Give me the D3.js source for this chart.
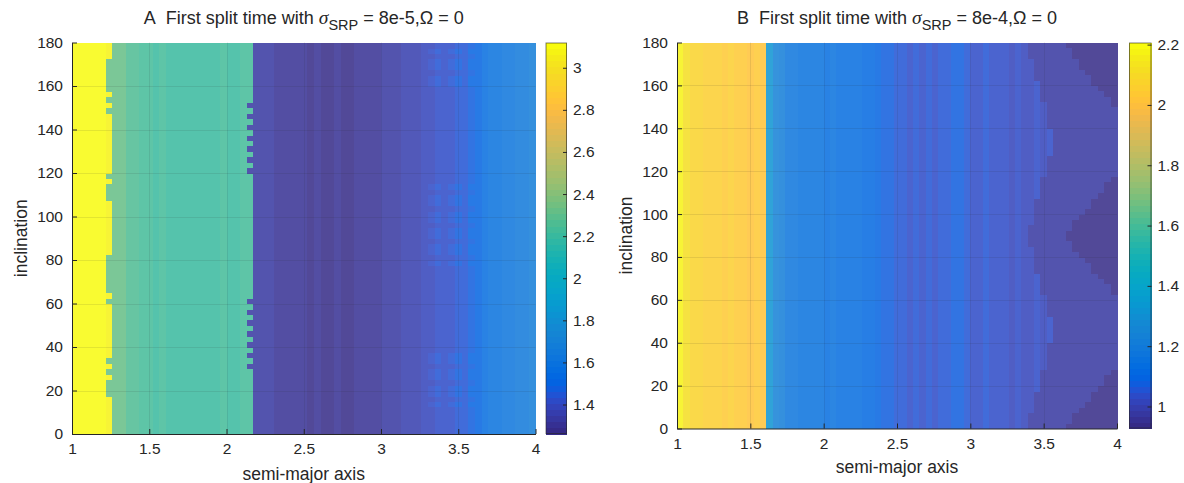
<!DOCTYPE html>
<html><head><meta charset="utf-8">
<script src="https://cdn.jsdelivr.net/npm/d3@7"></script>
<style>
body{margin:0;background:#fff;}
text{font-family:"Liberation Sans",Arial,Helvetica,sans-serif;fill:#262626;}
</style>
</head><body>
<svg id="chart" width="1184" height="483"></svg>
<script>
// ---------- data ----------
const xTicks = [1, 1.5, 2, 2.5, 3, 3.5, 4];
const yTicks = [0, 20, 40, 60, 80, 100, 120, 140, 160, 180];
const cbTicksA = [1.4, 1.6, 1.8, 2, 2.2, 2.4, 2.6, 2.8, 3];
const cbTicksB = [1, 1.2, 1.4, 1.6, 1.8, 2, 2.2];
const climA = [1.26, 3.12];
const climB = [0.927, 2.207];
const nCols = 69;   // semi-major axis cells, 1 .. 4
const nRows = 72;   // inclination cells, 0 .. 180 (2.5 deg)

// per-column value profile (panel A)
const profileA = [3.10,3.11,3.10,3.11,3.10,3.09,2.33,2.31,2.27,2.25,
  2.23,2.22,2.21,2.22,2.20,2.21,2.20,2.19,2.21,2.20,
  2.19,2.21,2.22,2.20,2.21,2.22,2.23,1.33,1.33,1.32,
  1.31,1.31,1.30,1.29,1.29,1.28,1.29,1.28,1.28,1.29,
  1.28,1.27,1.29,1.30,1.31,1.30,1.32,1.33,1.34,1.35,
  1.36,1.37,1.38,1.40,1.41,1.42,1.43,1.44,1.46,1.48,
  1.52,1.56,1.58,1.60,1.61,1.62,1.64,1.66,1.68];
// rows where the last yellow column (index 5) drops to green
const notchRowsA = [7,8,9,11,13,24,26,27,28,29,30,31,32,43,44,45,47,59,61,63,64,65,66,67,68];
const notchValueA = 2.31;
// rows where the last teal column (index 26) drops to the dark level
const ribRowsA = [12,14,16,18,20,22,24,48,50,52,54,56,58,60];
const ribValueA = 1.33;
// rows with lighter patches around a = 3.3..3.6
const bumpRowsA = [5,7,8,10,11,13,14,31,33,34,36,37,39,40,42,43,45,64,65,67,68,70];
const bumpColsA = [53,54,56,57,59];
const bumpA = 0.03;

// per-column value profile (panel B)
const profileB = [2.17,2.11,2.08,2.07,2.06,2.05,2.06,2.04,2.05,2.03,
  2.04,2.02,2.03,2.02,1.32,1.24,1.21,1.18,1.17,1.16,
  1.15,1.16,1.15,1.14,1.15,1.14,1.13,1.14,1.13,1.12,
  1.11,1.09,1.08,1.07,1.06,1.05,1.04,1.05,1.04,1.05,
  1.04,1.05,1.06,1.07,1.08,1.06,1.04,1.03,1.05,1.03,
  1.04,1.03,1.02,1.03,1.02,1.02,1.03,1.02,1.03,1.02,
  1.03,1.02,1.03,1.02,1.02,1.03,1.02,1.03,1.02];
// per-row first column of the medium-dark zone (panel B)
const midEdgeB = [55,55,55,56,56,56,56,57,57,57,57,58,58,58,58,58,59,59,59,59,
  59,58,58,58,58,57,57,57,57,56,56,56,56,56,55,55,55,55,56,56,
  56,56,56,57,57,57,57,58,58,58,58,59,59,59,59,59,58,58,58,58,
  58,57,57,57,57,56,56,56,56,55,55,55];
// per-row first column of the darkest zone (panel B), 69 = none
const darkEdgeB = [61,62,62,63,64,65,65,66,67,67,68,69,69,69,69,69,69,69,69,69,
  69,69,69,69,69,68,68,67,66,65,65,64,63,62,62,61,61,62,62,63,
  64,65,65,66,67,67,68,69,69,69,69,69,69,69,69,69,69,69,69,69,
  68,68,67,66,65,65,64,63,63,62,62,61];
const midValueB = 0.985;
const darkValueB = 0.935;

// MATLAB parula (64)
const parula = [
[0.2081,0.1663,0.5292],[0.2116,0.1898,0.5777],[0.2123,0.2138,0.6270],[0.2081,0.2386,0.6771],
[0.1959,0.2645,0.7279],[0.1707,0.2919,0.7792],[0.1253,0.3242,0.8303],[0.0591,0.3598,0.8683],
[0.0117,0.3875,0.8820],[0.0060,0.4086,0.8828],[0.0165,0.4266,0.8786],[0.0329,0.4430,0.8720],
[0.0498,0.4586,0.8641],[0.0629,0.4737,0.8554],[0.0723,0.4887,0.8467],[0.0779,0.5040,0.8384],
[0.0793,0.5200,0.8312],[0.0749,0.5375,0.8263],[0.0641,0.5570,0.8240],[0.0488,0.5772,0.8228],
[0.0343,0.5966,0.8199],[0.0265,0.6137,0.8135],[0.0239,0.6287,0.8038],[0.0231,0.6418,0.7913],
[0.0228,0.6535,0.7768],[0.0267,0.6642,0.7607],[0.0384,0.6743,0.7436],[0.0590,0.6838,0.7254],
[0.0843,0.6928,0.7062],[0.1133,0.7015,0.6859],[0.1453,0.7098,0.6646],[0.1801,0.7177,0.6424],
[0.2178,0.7250,0.6193],[0.2586,0.7317,0.5954],[0.3022,0.7376,0.5712],[0.3482,0.7424,0.5473],
[0.3953,0.7459,0.5244],[0.4420,0.7481,0.5033],[0.4871,0.7491,0.4840],[0.5300,0.7491,0.4661],
[0.5709,0.7485,0.4494],[0.6099,0.7473,0.4337],[0.6473,0.7456,0.4188],[0.6834,0.7435,0.4044],
[0.7184,0.7411,0.3905],[0.7525,0.7384,0.3768],[0.7858,0.7356,0.3633],[0.8185,0.7327,0.3498],
[0.8507,0.7299,0.3360],[0.8824,0.7274,0.3217],[0.9139,0.7258,0.3063],[0.9450,0.7261,0.2886],
[0.9739,0.7314,0.2666],[0.9938,0.7455,0.2403],[0.9990,0.7653,0.2164],[0.9955,0.7861,0.1967],
[0.9880,0.8066,0.1794],[0.9789,0.8271,0.1633],[0.9697,0.8481,0.1475],[0.9626,0.8705,0.1309],
[0.9589,0.8949,0.1132],[0.9598,0.9218,0.0948],[0.9661,0.9514,0.0755],[0.9763,0.9831,0.0538]];
const parulaHex = parula.map(c => d3.rgb(c[0]*255, c[1]*255, c[2]*255).formatHex());

// ---------- build matrices ----------
function buildA() {
  const cells = [];
  for (let r = 0; r < nRows; r++) for (let c = 0; c < nCols; c++) {
    let v = profileA[c];
    if (c === 5 && notchRowsA.includes(r)) v = notchValueA;
    if (c === 26 && ribRowsA.includes(r)) v = ribValueA;
    if (bumpRowsA.includes(r) && bumpColsA.includes(c)) v += bumpA;
    cells.push({r, c, v});
  }
  return cells;
}
function buildB() {
  const cells = [];
  for (let r = 0; r < nRows; r++) for (let c = 0; c < nCols; c++) {
    let v = profileB[c];
    if (c >= darkEdgeB[r]) v = darkValueB;
    else if (c >= midEdgeB[r]) v = midValueB;
    cells.push({r, c, v});
  }
  return cells;
}

// ---------- drawing ----------
const svg = d3.select("#chart");

function panel(opt) {
  const {x0, x1, y0, y1, cells, clim, cbTicks, cbX0, cbX1, letter, sub} = opt;
  const x = d3.scaleLinear().domain([1, 4]).range([x0, x1]);
  const y = d3.scaleLinear().domain([0, 180]).range([y1, y0]);
  const col = d3.scaleQuantize().domain(clim).range(parulaHex);
  const aEdge = k => 1 + k * 3 / nCols;
  const iEdge = k => k * 180 / nRows;

  const g = svg.append("g");
  const cg = g.append("g").attr("opacity", 0.85).attr("shape-rendering", "crispEdges");
  cg.selectAll("rect").data(cells).join("rect")
    .attr("x", d => x(aEdge(d.c)))
    .attr("y", d => y(iEdge(d.r + 1)))
    .attr("width", d => x(aEdge(d.c + 1)) - x(aEdge(d.c)) + 0.6)
    .attr("height", d => y(iEdge(d.r)) - y(iEdge(d.r + 1)) + 0.6)
    .attr("fill", d => col(d.v));

  // grid
  const gg = g.append("g").attr("stroke", "#262626").attr("stroke-opacity", 0.1).attr("stroke-width", 1);
  gg.selectAll(".gx").data(xTicks.slice(1, -1)).join("line")
    .attr("x1", d => Math.round(x(d)) + 0.5).attr("x2", d => Math.round(x(d)) + 0.5)
    .attr("y1", y0).attr("y2", y1);
  gg.selectAll(".gy").data(yTicks.slice(1, -1)).join("line")
    .attr("y1", d => Math.round(y(d)) + 0.5).attr("y2", d => Math.round(y(d)) + 0.5)
    .attr("x1", x0).attr("x2", x1);

  // axes
  const ax = g.append("g").attr("transform", `translate(0,${y1})`)
    .call(d3.axisBottom(x).tickValues(xTicks).tickFormat(d3.format("~g")).tickSizeInner(-5).tickSizeOuter(0).tickPadding(9));
  const ay = g.append("g").attr("transform", `translate(${x0},0)`)
    .call(d3.axisLeft(y).tickValues(yTicks).tickSizeInner(-5).tickSizeOuter(0).tickPadding(9));
  [ax, ay].forEach(a => {
    a.selectAll("path,line").attr("stroke", "#262626");
    a.selectAll("text").attr("font-size", 15.5).attr("fill", "#262626")
      .attr("font-family", '"Liberation Sans",Arial,sans-serif');
  });

  // labels
  g.append("text").attr("x", (x0 + x1) / 2).attr("y", opt.xlabY)
    .attr("text-anchor", "middle").attr("font-size", 17.5).text("semi-major axis");
  g.append("text").attr("transform", `translate(${opt.ylabX},${(y0 + y1) / 2}) rotate(-90)`)
    .attr("text-anchor", "middle").attr("font-size", 17.5).text("inclination");

  const t = g.append("text").attr("x", (x0 + x1) / 2).attr("y", 24)
    .attr("text-anchor", "middle").attr("font-size", 18).attr("fill", "#000");
  t.append("tspan").text(letter + "\u00a0 First split time with ");
  t.append("tspan").attr("font-family", '"Liberation Serif","Times New Roman",serif').attr("font-style", "italic").attr("font-size", 19.5).text("\u03c3");
  t.append("tspan").attr("font-size", 14.5).attr("dy", 6).text("SRP");
  t.append("tspan").attr("dy", -6).text(" = " + sub + ",\u03a9 = 0");

  // colorbar
  const cy = d3.scaleLinear().domain(clim).range([y1, y0]);
  const step = (clim[1] - clim[0]) / parulaHex.length;
  const cb = g.append("g").attr("shape-rendering", "crispEdges");
  cb.selectAll("rect").data(parulaHex).join("rect")
    .attr("x", cbX0).attr("width", cbX1 - cbX0)
    .attr("y", (d, i) => cy(clim[0] + (i + 1) * step))
    .attr("height", (d, i) => cy(clim[0] + i * step) - cy(clim[0] + (i + 1) * step) + 0.5)
    .attr("fill", d => d);
  g.append("rect").attr("x", cbX0 + 0.5).attr("y", y0 + 0.5).attr("width", cbX1 - cbX0 - 1).attr("height", y1 - y0 - 1)
    .attr("fill", "none").attr("stroke", "#262626").attr("stroke-width", 1).attr("stroke-opacity", 0.6);
  const cax = g.append("g").attr("transform", `translate(${cbX1},0)`)
    .call(d3.axisRight(cy).tickValues(cbTicks).tickFormat(d3.format("~g")).tickSizeInner(-4).tickSizeOuter(0).tickPadding(6));
  cax.select(".domain").remove();
  cax.selectAll("line").attr("stroke", "#262626");
  cax.selectAll("text").attr("font-size", 15.5).attr("fill", "#262626")
    .attr("font-family", '"Liberation Sans",Arial,sans-serif');
}

panel({x0: 72, x1: 535.5, y0: 42.5, y1: 434, cells: buildA(), clim: climA, cbTicks: cbTicksA,
  cbX0: 545.5, cbX1: 567, letter: "A", sub: "8e-5", xlabY: 480, ylabX: 27});
panel({x0: 677, x1: 1117, y0: 42.5, y1: 428.5, cells: buildB(), clim: climB, cbTicks: cbTicksB,
  cbX0: 1129, cbX1: 1151.5, letter: "B", sub: "8e-4", xlabY: 473, ylabX: 632});
</script>
</body></html>
